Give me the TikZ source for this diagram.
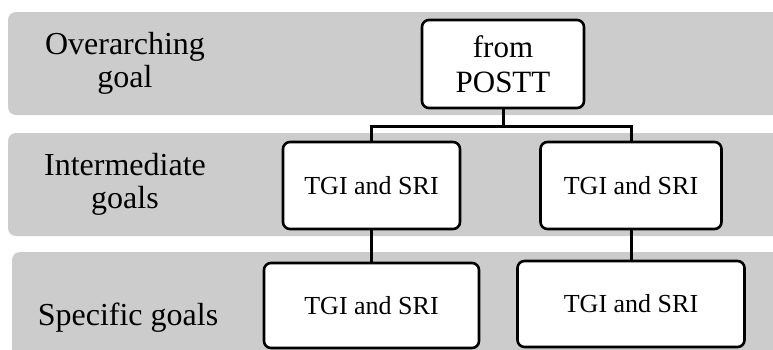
\documentclass[tikz,border=0pt]{standalone}
\usepackage{fontspec}
\setmainfont{Liberation Serif}
\usetikzlibrary{calc}
\definecolor{bandgray}{RGB}{204,204,204}
\tikzset{
  band/.style={fill=bandgray, draw=none, rounded corners=8pt},
  goalbox/.style={draw=black, line width=2.6pt, fill=white, rounded corners=7pt,
    inner sep=0pt, align=center},
  smalltext/.style={font=\fontsize{26}{30}\selectfont},
  bigtext/.style={font=\fontsize{31}{35}\selectfont},
  levellabel/.style={align=center, inner sep=0pt, font=\fontsize{32}{33}\selectfont},
  link/.style={draw=black, line width=3pt}
}
\begin{document}
\begin{tikzpicture}[x=1pt, y=-1pt]
  \useasboundingbox (0,0) rectangle (773,349);
  \clip (0,0) rectangle (773,349);

  % level bands
  \fill[band] (8,12) rectangle (800,115);
  \fill[band] (8,133) rectangle (800,236);
  \fill[band] (12,252) rectangle (800,390);

  % level labels
  \node[levellabel] (lblover) at (125,63) {Overarching\\goal};
  \node[levellabel] (lblinter) at (125,184) {Intermediate\\goals};
  \node[levellabel, anchor=base] (lblspec) at (128,325) {Specific goals};

  % goal boxes
  \node[goalbox, bigtext, minimum width=162pt, minimum height=88pt] (top) at (503,64) {from\\POSTT};
  \node[goalbox, smalltext, minimum width=177pt, minimum height=87pt] (int1) at (371.5,185.5) {TGI and SRI};
  \node[goalbox, smalltext, minimum width=181pt, minimum height=87pt] (int2) at (631,185.5) {TGI and SRI};
  \node[goalbox, smalltext, minimum width=215pt, minimum height=85pt] (spec1) at (371.5,305.5) {TGI and SRI};
  \node[goalbox, smalltext, minimum width=227pt, minimum height=86pt] (spec2) at (631,304) {TGI and SRI};

  % tree connectors
  \coordinate (split) at ($(top.south)+(0,17)$);
  \draw[link] (top.south) -- (split);
  \draw[link] (split) -| (int1.north);
  \draw[link] (split) -| (int2.north);
  \draw[link] (int1.south) -- (spec1.north);
  \draw[link] (int2.south) -- (spec2.north);
\end{tikzpicture}
\end{document}
